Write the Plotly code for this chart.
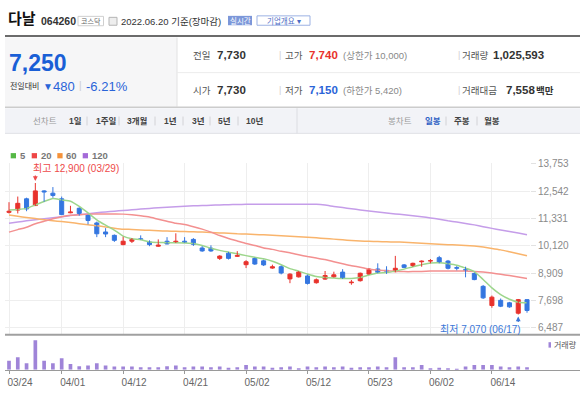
import plotly.graph_objects as go

W, H = 580, 397
FONT = "Liberation Sans, Noto Sans CJK KR, sans-serif"

# ---------------- header data ----------------
stock_name = "다날"
stock_code = "064260"
market = "코스닥"
as_of = "2022.06.20 기준(장마감)"
last_price = 7250
change = 480
change_pct = -6.21
prev_close = 7730
day_open = 7730
day_high = 7740
day_low = 7150
upper_limit = 10000
lower_limit = 5420
volume_today = 1025593
amount_mil = 7558
period_buttons = ["1일", "1주일", "3개월", "1년", "3년", "5년", "10년"]
candle_buttons = ["일봉", "주봉", "월봉"]

# ---------------- chart data ----------------
dates = ["03/24", "03/25", "03/28", "03/29", "03/30", "03/31",
         "04/01", "04/04", "04/05", "04/06", "04/07", "04/08", "04/11", "04/12", "04/13", "04/14",
         "04/15", "04/18", "04/19", "04/20", "04/21", "04/22", "04/25", "04/26", "04/27", "04/28", "04/29",
         "05/02", "05/03", "05/04", "05/06", "05/09", "05/10", "05/11", "05/12", "05/13", "05/16",
         "05/17", "05/18", "05/19", "05/20", "05/23", "05/24", "05/25", "05/26", "05/27", "05/30", "05/31",
         "06/02", "06/03", "06/07", "06/08", "06/09", "06/10", "06/13", "06/14", "06/15", "06/16",
         "06/17", "06/20"]
opens = [11600, 11700, 12200, 11900, 12550, 12450, 12200, 11580, 11780, 11480,
         11130, 10730, 10580, 10170, 10320, 10430, 10290, 10100, 10320, 10260,
         10320, 10400, 10020, 10010, 9560, 9790, 9650, 9280, 9560, 9450,
         9130, 9190, 8650, 8740, 8780, 8480, 8640, 8740, 8950, 8480,
         8570, 8860, 9090, 9030, 8970, 9270, 9240, 9410, 9440, 9590,
         9440, 9150, 9060, 8890, 8320, 7470, 7700, 7590, 7130, 7730]
highs = [12050, 12300, 12250, 12900, 12580, 12720, 12300, 11890, 11820, 11500,
         11190, 10900, 10620, 10520, 10460, 10580, 10360, 10400, 10500, 10670,
         10500, 10460, 10100, 10140, 9700, 9850, 9880, 9480, 9590, 9500,
         9280, 9240, 8900, 9000, 8840, 8670, 9000, 8970, 9080, 8600,
         8930, 9120, 9340, 9210, 9670, 9310, 9370, 9470, 9530, 9670,
         9490, 9220, 9190, 8930, 8380, 7910, 7780, 7630, 7760, 7740]
lows = [11550, 11550, 11650, 11880, 12070, 12250, 11480, 11560, 11450, 11070,
        10500, 10500, 10290, 10140, 10240, 10390, 10100, 10080, 10180, 10240,
        10250, 10110, 9850, 9850, 9490, 9510, 9630, 9130, 9270, 9220,
        9100, 8850, 8460, 8710, 8400, 8440, 8610, 8710, 8650, 8390,
        8530, 8830, 8900, 8870, 8940, 9130, 9190, 9190, 9340, 9340,
        9070, 9030, 8720, 8590, 7760, 7370, 7400, 7370, 7070, 7150]
closes = [11650, 12000, 11750, 12550, 12500, 12350, 11500, 11620, 11550, 11240,
          10650, 10640, 10360, 10320, 10400, 10400, 10170, 10150, 10200, 10320,
          10260, 10180, 9890, 9890, 9660, 9560, 9690, 9410, 9310, 9270,
          9190, 8910, 8860, 8960, 8450, 8610, 8800, 8830, 8680, 8510,
          8900, 9080, 8940, 8990, 9120, 9160, 9340, 9440, 9460, 9380,
          9120, 9120, 9030, 8620, 7810, 7840, 7440, 7410, 7730, 7250]
volumes = [3530000, 4830000, 2550000, 11400000, 3530000, 2550000, 4450000, 2280000, 1410000, 1630000,
           2550000, 1630000, 1250000, 1250000, 1250000, 1030000, 1020000, 1030000, 1410000, 1630000,
           1020000, 1250000, 1260000, 1030000, 1250000, 760000, 1030000, 1900000, 1250000, 1260000,
           760000, 1030000, 1250000, 650000, 1250000, 1030000, 1250000, 1020000, 1260000, 760000,
           1030000, 1020000, 1250000, 1030000, 4830000, 1030000, 1020000, 1900000, 650000, 760000,
           650000, 380000, 1250000, 1900000, 1900000, 1900000, 1250000, 1030000, 1250000, 1025593]
ma5 = [11709, 11731, 11775, 11928, 12081, 12212, 12147, 12094, 11862, 11578,
       11271, 11031, 10812, 10549, 10431, 10387, 10286, 10265, 10256, 10256,
       10243, 10221, 10133, 10011, 9914, 9836, 9761, 9682, 9608, 9542,
       9433, 9280, 9105, 8995, 8864, 8755, 8711, 8689, 8667, 8667,
       8711, 8820, 8908, 8930, 8995, 9083, 9192, 9280, 9354, 9367,
       9323, 9258, 9126, 8973, 8623, 8251, 7953, 7748, 7616, 7595]
ma20 = [10724, 10834, 10943, 11096, 11206, 11315, 11403, 11468, 11490, 11521,
        11525, 11525, 11525, 11521, 11490, 11446, 11389, 11293, 11206, 11118,
        11061, 10965, 10855, 10724, 10571, 10440, 10330, 10221, 10133, 10024,
        9958, 9871, 9805, 9717, 9639, 9573, 9507, 9411, 9323, 9236,
        9170, 9092, 9039, 9008, 8987, 8973, 8973, 8982, 8995, 9004,
        9004, 9004, 9004, 8982, 8951, 8908, 8855, 8798, 8733, 8667]
ma60 = [11481, 11424, 11372, 11324, 11271, 11227, 11192, 11149, 11096, 11052,
        11009, 10952, 10899, 10855, 10842, 10820, 10803, 10785, 10768, 10759,
        10750, 10737, 10724, 10707, 10689, 10672, 10650, 10637, 10619, 10602,
        10580, 10558, 10536, 10514, 10492, 10470, 10440, 10413, 10383, 10352,
        10330, 10317, 10304, 10295, 10286, 10273, 10251, 10230, 10212, 10190,
        10168, 10151, 10133, 10103, 10059, 10002, 9936, 9849, 9761, 9674]
ma120 = [11118, 11171, 11223, 11271, 11319, 11363, 11407, 11455, 11499, 11543,
         11586, 11617, 11652, 11683, 11713, 11744, 11775, 11801, 11823, 11849,
         11871, 11888, 11902, 11915, 11928, 11941, 11950, 11954, 11958, 11961,
         11963, 11963, 11963, 11962, 11961, 11958, 11923, 11862, 11810, 11761,
         11709, 11661, 11613, 11569, 11529, 11494, 11451, 11407, 11354, 11293,
         11227, 11171, 11109, 11044, 10965, 10890, 10820, 10750, 10680, 10610]
price_ticks = [6487, 7698, 8909, 10120, 11331, 12542, 13753]
date_tick_labels = ["03/24", "04/01", "04/12", "04/21", "05/02", "05/12", "05/23", "06/02", "06/14"]
ma_names = ["5", "20", "60", "120"]

# ---------------- styling ----------------
RED = "#e8322c"
BLUE = "#3577e0"
VOL = "#9f84d8"
MA_LINE = ["#9dd68c", "#f39090", "#f9b46c", "#c59de9"]
MA_KEY = ["#55b845", "#ee4646", "#f5923a", "#a46ad8"]

idx = list(range(len(dates)))
tick_idx = [dates.index(d) for d in date_tick_labels]

fig = go.Figure()

# moving averages
for vals, col in zip([ma120, ma60, ma20, ma5], MA_LINE[::-1]):
    fig.add_trace(go.Scatter(x=idx, y=vals, mode="lines", line=dict(color=col, width=1.5, shape="spline", smoothing=0.5),
                             hoverinfo="skip", xaxis="x", yaxis="y"))

# candle wicks
up = [c >= o for o, c in zip(opens, closes)]
for flag, col in [(True, RED), (False, BLUE)]:
    xs, ys = [], []
    for i in idx:
        if up[i] == flag:
            xs += [i, i, None]
            ys += [lows[i], highs[i], None]
    fig.add_trace(go.Scatter(x=xs, y=ys, mode="lines", line=dict(color=col, width=1),
                             hoverinfo="skip", xaxis="x", yaxis="y"))

# candle bodies
body_base = [min(o, c) for o, c in zip(opens, closes)]
body_h = [max(abs(c - o), 20) for o, c in zip(opens, closes)]
cols = [RED if u else BLUE for u in up]
fig.add_trace(go.Bar(x=idx, y=body_h, base=body_base, width=0.46,
                     marker=dict(color=cols, line=dict(color=cols, width=1)),
                     hoverinfo="skip", xaxis="x", yaxis="y"))

# volume
fig.add_trace(go.Bar(x=idx, y=volumes, width=0.42, marker=dict(color=VOL, line=dict(width=0)),
                     hoverinfo="skip", xaxis="x2", yaxis="y2"))

# ---------------- axes geometry (pixels) ----------------
step = 8.78          # px per trading day
x_first = 9          # px of first candle
main_left, main_right = 5, 530
main_top, main_bottom = 160, 333
px_per_price = 1 / 43.77
y_top_val = 13753 + (160.8 - main_top) / px_per_price
y_bot_val = 13753 - (main_bottom - 160.8) / px_per_price
vol_top, vol_base = 336, 369.5

fig.update_layout(
    width=W, height=H, margin=dict(l=0, r=0, t=0, b=0),
    paper_bgcolor="white", plot_bgcolor="rgba(0,0,0,0)",
    showlegend=False, barmode="overlay", hovermode=False,
    font=dict(family=FONT, size=10, color="#333"),
    xaxis=dict(domain=[main_left / W, main_right / W],
               range=[(main_left - x_first) / step, (main_right - x_first) / step],
               tickvals=tick_idx, showticklabels=False, ticks="", showgrid=True,
               gridcolor="#eeeeee", gridwidth=1, zeroline=False, showline=False, anchor="y"),
    yaxis=dict(domain=[1 - main_bottom / H, 1 - main_top / H], range=[y_bot_val, y_top_val],
               side="right", tickvals=price_ticks, ticktext=[f"{v:,}" for v in price_ticks],
               showgrid=True, gridcolor="#eeeeee", zeroline=False, showline=False,
               ticks="outside", ticklen=5, tickcolor="#e2e2e2",
               tickfont=dict(size=10, color="#8a8a8a", family=FONT), anchor="x"),
    xaxis2=dict(domain=[main_left / W, 1], range=[(main_left - x_first) / step, (W - x_first) / step],
                tickvals=tick_idx, ticktext=date_tick_labels, ticks="outside", ticklen=3,
                tickcolor="#999", showline=True, linecolor="#9a9a9a", linewidth=1,
                showgrid=False, zeroline=False, ticklabelshift=11,
                tickfont=dict(size=10, color="#666", family=FONT), anchor="y2"),
    yaxis2=dict(domain=[1 - vol_base / H, 1 - vol_top / H],
                range=[0, (vol_base - vol_top) * 380000],
                showticklabels=False, showgrid=False, zeroline=False, showline=False, anchor="x2"),
)


def text(x, y, s, size=10, color="#333", anchor="left"):
    fig.add_annotation(x=x / W, y=1 - y / H, xref="paper", yref="paper", text=s, showarrow=False,
                       xanchor=anchor, yanchor="middle", borderpad=0,
                       font=dict(size=size, color=color, family=FONT))


def rect(x0, y0, x1, y1, fill="rgba(0,0,0,0)", line=None, lw=1, layer="below"):
    fig.add_shape(type="rect", xref="paper", yref="paper", x0=x0 / W, x1=x1 / W,
                  y0=1 - y1 / H, y1=1 - y0 / H, fillcolor=fill, layer=layer,
                  line=dict(color=line if line else "rgba(0,0,0,0)", width=lw if line else 0))


def hline(x0, x1, y, color, lw=1):
    fig.add_shape(type="line", xref="paper", yref="paper", x0=x0 / W, x1=x1 / W,
                  y0=1 - y / H, y1=1 - y / H, line=dict(color=color, width=lw), layer="above")


def vline(x, y0, y1, color, lw=1):
    fig.add_shape(type="line", xref="paper", yref="paper", x0=x / W, x1=x / W,
                  y0=1 - y0 / H, y1=1 - y1 / H, line=dict(color=color, width=lw), layer="above")


# ---------------- header ----------------
text(7, 14, f"<b>{stock_name}</b>", 15, "#111")
text(40, 16.3, f"<b>{stock_code}</b>", 10.5, "#333")
rect(78, 11.5, 103.5, 21, fill="white", line="#cfcfcf")
text(90.7, 16.3, market, 7, "#666", "center")
rect(109, 12.5, 117, 20.5, fill="#eeeeee", line="#b5b5b5")
text(120, 16.5, as_of, 9.5, "#333")
rect(228, 11, 252, 20.5, fill="#7c97d9")
text(240, 15.9, "실시간", 7.5, "white", "center")
rect(257, 11, 310, 20.5, fill="white", line="#9cb1e3")
text(283.5, 15.9, "기업개요 ▾", 7.5, "#4b6cc4", "center")
hline(5, 580, 31.5, "#6b6b6b", 2)

# info panel
rect(5, 33, 177, 103, fill="#f6f6f7")
vline(177, 33, 103, "#e2e2e2")
hline(177, 580, 68.5, "#ececec")
hline(5, 580, 103.5, "#cccccc", 1.5)

text(8, 59, f"<b>{last_price:,}</b>", 23, "#1a5fd6")
text(9, 82.5, "전일대비", 8, "#333")
text(42, 82.5, "▼", 10, "#2a64d8")
text(52, 82.5, f"{change}", 13, "#2a64d8")
text(78, 82, "|", 10, "#cccccc")
text(85, 82.5, f"-{abs(change_pct):.2f}%", 13, "#2a64d8")

row1, row2 = 51, 86.5
text(192, row1, "전일", 9.5, "#555")
text(216, row1, f"<b>{prev_close:,}</b>", 11.5, "#333")
text(278, row1, "|", 9, "#d0d0d0")
text(284, row1, "고가", 9.5, "#555")
text(308, row1, f"<b>{day_high:,}</b>", 11.5, RED)
text(342, row1, f"(상한가 {upper_limit:,})", 9.5, "#888")
text(457, row1, "|", 9, "#d0d0d0")
text(461, row1, "거래량", 9.5, "#555")
text(492, row1, f"<b>{volume_today:,}</b>", 11.5, "#333")

text(192, row2, "시가", 9.5, "#555")
text(216, row2, f"<b>{day_open:,}</b>", 11.5, "#333")
text(278, row2, "|", 9, "#d0d0d0")
text(284, row2, "저가", 9.5, "#555")
text(308, row2, f"<b>{day_low:,}</b>", 11.5, "#2a64d8")
text(342, row2, f"(하한가 {lower_limit:,})", 9.5, "#888")
text(457, row2, "|", 9, "#d0d0d0")
text(461, row2, "거래대금", 9.5, "#555")
text(505, row2, f"<b>{amount_mil:,}</b>", 11.5, "#333")
text(535, row2, "<b>백만</b>", 9.5, "#333")

# toolbar
rect(5, 104.5, 580, 130, fill="#f2f3f7")
hline(5, 580, 130, "#e0e1e6")
vline(297, 104.5, 130, "#dcdde2")
ty = 117.3
text(32, ty, "선차트", 8.5, "#999")
pb_x = [68, 95, 126, 163, 191, 217, 245]
pb_sep = [87, 119, 155, 183, 210, 238]
for lab, xx in zip(period_buttons, pb_x):
    text(xx, ty, f"<b>{lab}</b>", 8.5, "#444")
for xx in pb_sep:
    vline(xx, 113, 122, "#d2d2d6")
text(387, ty, "봉차트", 8.5, "#999")
cb_x = [424, 453, 483]
cb_sep = [446, 477]
for k, (lab, xx) in enumerate(zip(candle_buttons, cb_x)):
    text(xx, ty, f"<b>{lab}</b>", 8.5, "#2e5fc4" if k == 0 else "#444")
for xx in cb_sep:
    vline(xx, 113, 122, "#d2d2d6")

# MA legend
key_x = [(10.7, 18.5), (31.7, 39.5), (57.3, 65), (82.7, 90.5)]
for (sx, lx), col, name in zip(key_x, MA_KEY, ma_names):
    rect(sx, 150, sx + 5.3, 155.3, fill=col, layer="above")
    text(lx, 152.7, f"<b>{name}</b>", 9.5, "#777")

# high / low markers
hi_i = highs.index(max(highs))
lo_i = lows.index(min(lows))
fig.add_annotation(x=hi_i, y=highs[hi_i], xref="x", yref="y", text="", showarrow=True,
                   ax=0, ay=-9, arrowhead=2, arrowsize=0.8, arrowwidth=1.2, arrowcolor="#ee4a4a", standoff=2)
fig.add_annotation(x=hi_i, y=highs[hi_i], xref="x", yref="y",
                   text=f"최고 {max(highs):,} ({dates[hi_i]})", showarrow=False,
                   xanchor="left", yanchor="middle", xshift=-3, yshift=14.5, borderpad=0,
                   font=dict(size=10, color="#ee4a4a", family=FONT))
fig.add_annotation(x=lo_i, y=lows[lo_i], xref="x", yref="y", text="", showarrow=True,
                   ax=0, ay=9, arrowhead=2, arrowsize=0.8, arrowwidth=1.2, arrowcolor="#3c78d8", standoff=2)
fig.add_annotation(x=lo_i, y=lows[lo_i], xref="x", yref="y",
                   text=f"최저 {min(lows):,} ({dates[lo_i]})", showarrow=False,
                   xanchor="right", yanchor="middle", xshift=4, yshift=-14.5, borderpad=0,
                   font=dict(size=10, color="#3c78d8", family=FONT))

# panel separator and volume legend
hline(5, 580, 334, "#a0a0a0", 2)
rect(548.5, 341.5, 551, 347, fill=VOL, layer="above")
text(552.5, 344.5, "거래량", 8, "#555")

fig.write_html("out.html", config={"displayModeBar": False},
               post_script="document.body.style.margin='0px';document.body.style.overflow='hidden';")
